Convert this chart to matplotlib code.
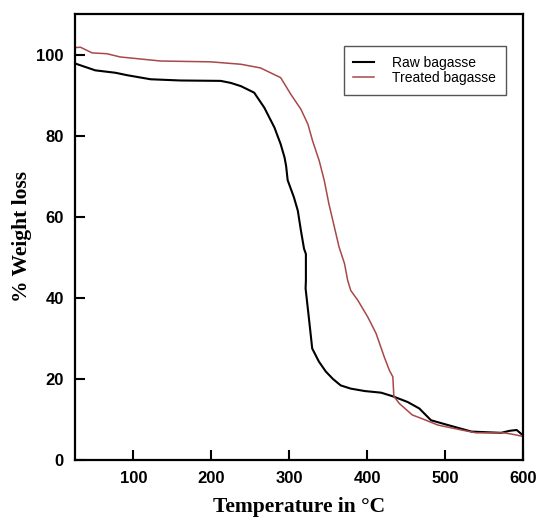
import matplotlib
matplotlib.use("Agg")
import matplotlib.pyplot as plt

# Raw bagasse (black)
raw_temp = [25, 51, 77, 92, 122, 160, 212, 225, 238, 255, 268, 281, 289, 294, 296, 298, 306,
            311, 315, 319, 321.4, 321.4, 321, 325.3, 329.5, 338, 347, 356, 366, 379, 397, 418,
            433, 452, 467, 482, 504, 534, 572, 583, 592, 598, 600]
raw_wt = [97.8, 96.1, 95.5, 94.9, 93.9, 93.6, 93.5, 93.0, 92.2, 90.6, 86.9, 82.0, 77.9, 74.6,
          72.5, 69.0, 64.8, 61.5, 56.6, 52.1, 50.8, 44.3, 42.3, 34.9, 27.5, 24.3, 21.8, 20.0,
          18.4, 17.6, 17.0, 16.6, 15.7, 14.3, 12.7, 9.8, 8.6, 7.0, 6.7, 7.2, 7.4, 6.4, 6.2]

# Treated bagasse (red)
trt_temp = [25, 32, 47, 66, 83, 109, 135, 199, 238, 263, 276, 289, 302, 315, 324, 330, 338.5,
            345, 351, 358, 364, 371, 375, 379, 388, 401, 411.5, 422, 428.6, 433, 434.3, 441.5,
            458, 469, 491, 521, 540, 575, 585, 598, 600]
trt_wt = [101.7, 101.8, 100.4, 100.2, 99.4, 98.9, 98.4, 98.2, 97.6, 96.7, 95.5, 94.3, 90.2,
          86.5, 82.8, 78.7, 73.8, 68.9, 63.1, 57.4, 52.5, 48.4, 44.3, 41.8, 39.4, 35.2, 31.2,
          25.4, 22.1, 20.5, 15.7, 13.9, 11.1, 10.3, 8.6, 7.4, 6.7, 6.7, 6.4, 5.9, 5.8]

x_ticks = [100, 200, 300, 400, 500, 600]
y_ticks = [0, 20, 40, 60, 80, 100]

fig = plt.figure(figsize=(5.38, 5.18), dpi=100)
ax = fig.add_axes([0.1394, 0.112, 0.8326, 0.861])

ax.plot(raw_temp, raw_wt, color="black", lw=1.5, label="Raw bagasse")
ax.plot(trt_temp, trt_wt, color="#a84848", lw=1.1, label="Treated bagasse")

ax.set_xlim(25, 600)
ax.set_ylim(0, 110)
ax.set_xticks(x_ticks)
ax.set_yticks(y_ticks)

for s in ax.spines.values():
    s.set_linewidth(1.6)

ax.tick_params(direction="in", length=7, width=1.5, pad=8, top=False, right=False)
for lab in ax.get_xticklabels() + ax.get_yticklabels():
    lab.set_fontfamily("Liberation Sans")
    lab.set_fontweight("bold")
    lab.set_fontsize(12)

ax.set_xlabel("Temperature in °C", fontfamily="Liberation Serif", fontweight="bold",
              fontsize=15.5, labelpad=8)
ax.set_ylabel("% Weight loss", fontfamily="Liberation Serif", fontweight="bold",
              fontsize=15.5, labelpad=3)

leg = ax.legend(loc="upper right", bbox_to_anchor=(0.962, 0.928), borderaxespad=0,
                fancybox=False, framealpha=1, edgecolor="#555555",
                prop={"family": "Liberation Sans", "size": 10}, handlelength=1.5,
                borderpad=0.7, labelspacing=0.1, handletextpad=1.3)
leg.get_frame().set_linewidth(1.0)

fig.savefig("out.png", dpi=100)
